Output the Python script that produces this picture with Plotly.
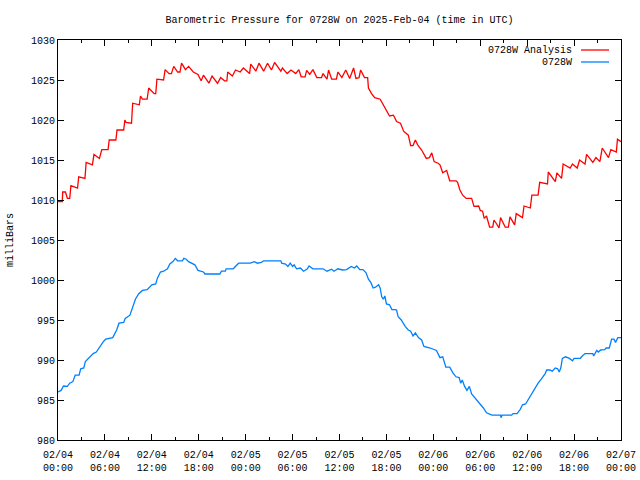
import pandas as pd
import plotly.graph_objects as go

START = "2025-02-04 00:00"

# Hours since 2025-02-04 00:00 UTC and pressure (mb)
analysis_hours = [0.0,0.55,0.6,0.95,1.2,1.5,1.65,2.5,2.65,3.45,3.6,4.4,4.6,5.3,5.6,6.4,6.55,7.4,7.55,8.4,8.55,8.7,9.4,9.55,10.4,10.55,10.8,11.4,11.6,12.3,12.5,12.65,13.5,13.7,14.2,14.5,14.8,15.3,15.6,15.8,16.3,16.7,17.3,17.9,18.3,18.6,19.3,19.7,20.4,20.8,21.3,21.6,21.7,22.3,22.7,23.3,23.7,24.5,24.65,25.3,25.7,26.3,26.8,27.3,27.7,28.5,28.7,29.3,29.8,30.4,30.8,31.1,31.6,31.8,32.2,32.6,33.1,33.7,33.9,34.4,34.6,35.0,35.6,35.8,36.3,36.8,37.3,37.8,38.1,38.5,38.7,39.2,39.6,39.7,40.1,40.5,41.2,41.7,42.0,42.4,42.9,43.3,43.8,44.2,44.8,45.1,45.4,45.7,46.0,46.5,47.1,47.5,47.8,48.1,48.6,48.85,49.2,49.7,50.1,50.9,51.1,51.4,51.75,52.2,52.9,53.2,53.8,54.0,54.3,54.5,54.8,55.2,55.6,55.75,56.1,56.4,56.6,57.2,57.6,57.8,58.4,58.6,59.4,59.6,60.4,60.6,61.4,61.6,62.6,62.7,63.6,63.8,64.4,64.6,65.5,65.8,66.4,66.7,67.4,67.6,68.4,68.8,69.3,69.6,70.4,70.7,71.4,71.55,72.0]
analysis_mb = [1009.8,1009.8,1011.0,1011.0,1010.2,1010.2,1011.8,1011.5,1012.9,1012.7,1014.7,1014.4,1015.7,1015.2,1016.3,1016.3,1017.5,1017.5,1018.75,1018.75,1020.0,1019.7,1019.6,1022.1,1021.9,1023.0,1022.6,1022.6,1024.0,1023.3,1023.3,1025.1,1025.0,1026.3,1025.8,1025.8,1026.7,1026.0,1026.0,1027.1,1026.3,1026.7,1026.0,1025.7,1024.9,1025.6,1024.6,1025.5,1024.6,1025.3,1024.9,1024.9,1026.0,1025.5,1026.25,1026.0,1026.5,1025.8,1027.0,1026.1,1027.1,1026.1,1027.1,1026.25,1027.2,1026.1,1026.5,1025.8,1026.25,1025.8,1026.3,1025.4,1025.4,1026.2,1025.7,1026.3,1025.3,1025.3,1025.8,1025.1,1026.25,1025.1,1025.1,1026.0,1025.3,1026.25,1025.2,1026.5,1025.2,1025.3,1026.25,1025.3,1025.3,1024.0,1023.3,1022.8,1022.6,1021.7,1021.25,1020.5,1020.6,1019.8,1019.6,1018.6,1018.1,1016.8,1016.8,1017.5,1016.9,1016.25,1015.2,1015.3,1015.9,1014.8,1014.6,1014.4,1013.4,1013.7,1012.4,1012.4,1012.2,1011.25,1010.6,1010.2,1010.2,1009.2,1009.25,1008.7,1008.6,1007.7,1008.0,1006.6,1006.6,1007.5,1007.0,1006.5,1007.8,1006.6,1006.6,1007.9,1006.9,1008.3,1007.8,1009.25,1009.0,1010.6,1010.6,1012.2,1012.0,1013.5,1012.3,1013.4,1012.7,1014.5,1014.0,1014.5,1014.0,1015.0,1014.5,1015.7,1014.7,1015.3,1014.8,1016.5,1015.3,1016.3,1016.0,1017.6,1017.3]

station_hours = [0,0.4,0.7,1.2,1.5,1.9,2.2,2.7,2.9,3.3,3.5,3.9,4.5,4.9,5.4,5.8,6.1,7.0,7.5,7.8,8.4,8.6,9.2,9.6,9.9,10.3,10.8,11.4,12.0,12.5,12.7,13.1,13.5,14.0,14.3,14.7,15.0,15.3,15.9,16.1,16.4,16.7,17.1,17.5,17.9,18.6,18.8,20.7,20.9,21.4,21.5,22.4,23.1,24.6,25.1,25.5,26.0,26.3,28.5,28.6,29.1,29.4,29.7,30.0,30.2,30.5,31.0,31.4,31.9,32.1,32.6,33.9,34.4,35.0,35.3,35.8,36.4,36.9,37.5,37.9,38.2,38.6,39.0,39.4,39.7,40.0,40.3,40.6,41.0,41.2,41.4,41.6,41.8,42.0,42.4,42.7,43.1,43.3,43.5,43.9,44.4,44.8,45.1,45.4,45.7,46.1,46.5,46.8,47.6,48.0,48.4,48.85,49.2,49.6,50.1,50.5,50.9,51.3,51.5,51.7,52.0,52.3,52.6,52.9,53.3,53.5,54.0,54.4,54.8,55.2,55.5,56.6,56.65,56.8,58.0,58.2,58.7,59.1,59.4,59.8,60.1,60.6,61.0,61.4,61.8,62.3,62.5,62.9,63.2,63.6,63.9,64.1,64.3,64.5,64.9,65.4,65.8,66.0,66.8,66.95,67.4,68.4,68.5,68.9,69.1,69.4,69.9,70.1,70.5,70.8,71.1,71.3,71.6,72.0]
station_mb = [986.0,986.2,986.75,986.7,987.1,987.3,988.1,988.1,988.9,989.0,989.8,990.2,990.8,991.0,991.75,992.3,992.6,992.8,993.75,994.6,994.7,995.2,995.6,996.7,997.6,998.25,998.7,998.8,999.4,999.5,1000.2,1001.0,1001.1,1001.4,1002.0,1002.3,1002.7,1002.4,1002.4,1002.7,1002.6,1002.3,1002.1,1001.9,1001.2,1001.0,1000.75,1000.75,1001.1,1001.1,1001.4,1001.4,1002.1,1002.1,1002.3,1002.1,1002.2,1002.4,1002.4,1002.1,1002.0,1001.7,1002.1,1001.7,1001.9,1001.4,1001.5,1001.1,1001.4,1001.75,1001.4,1001.4,1001.1,1001.35,1001.1,1001.4,1001.25,1001.3,1001.7,1001.5,1001.75,1001.3,1001.3,1000.9,1000.1,999.7,999.0,999.1,999.4,999.0,997.9,997.6,998.0,997.0,996.9,996.3,996.3,996.25,995.4,995.0,994.2,993.75,993.6,993.0,993.4,992.8,992.5,991.7,991.5,991.3,991.2,990.3,990.4,989.1,989.1,988.4,987.9,987.8,987.1,987.5,986.7,986.2,986.7,985.75,985.3,985.0,984.4,984.0,983.4,983.25,983.1,983.1,982.8,983.1,983.1,983.3,983.3,983.8,984.4,984.5,985.0,985.9,986.5,987.1,987.6,988.3,988.75,988.75,988.6,989.0,988.9,988.5,989.0,990.2,990.4,990.2,989.9,990.2,990.2,990.4,990.8,990.8,990.5,991.2,991.0,991.25,991.3,991.5,991.5,992.6,992.6,992.2,992.8,992.8]

series_names = ["0728W Analysis", "0728W"]
series_colors = ["#ff0000", "#0080ff"]
y_ticks = [980, 985, 990, 995, 1000, 1005, 1010, 1015, 1020, 1025, 1030]

t0 = pd.Timestamp(START)
def to_time(hours):
    return [t0 + pd.Timedelta(hours=h) for h in hours]

FONT = "Liberation Mono, DejaVu Sans Mono, monospace"

fig = go.Figure()
fig.add_trace(go.Scatter(x=to_time(analysis_hours), y=analysis_mb, mode="lines",
                         name=series_names[0], line=dict(color=series_colors[0], width=1.3)))
fig.add_trace(go.Scatter(x=to_time(station_hours), y=station_mb, mode="lines",
                         name=series_names[1], line=dict(color=series_colors[1], width=1.3)))

fig.update_layout(
    width=640, height=480,
    margin=dict(l=58, r=19, t=40, b=40, autoexpand=False),
    paper_bgcolor="white", plot_bgcolor="white",
    showlegend=False,
    font=dict(family=FONT, size=10, color="black"),
    title=dict(text="Barometric Pressure for 0728W on 2025-Feb-04 (time in UTC)",
               x=0.5, xref="paper", xanchor="center",
               y=1 - 19 / 480, yref="container", yanchor="middle",
               font=dict(family=FONT, size=10, color="black")),
)

fig.update_xaxes(
    type="date", automargin=False,
    range=[t0, t0 + pd.Timedelta(hours=72)],
    tickmode="linear", tick0=t0, dtick=6 * 3600 * 1000,
    tickformat="%m/%d<br>%H:%M",
    ticks="inside", ticklen=6, tickcolor="black",
    ticklabelstandoff=5,
    minor=dict(dtick=3 * 3600 * 1000, tick0=t0, ticks="inside", ticklen=3, tickcolor="black", showgrid=False),
    showline=True, linecolor="black", linewidth=1, mirror="allticks",
    showgrid=False, zeroline=False,
    tickfont=dict(family=FONT, size=10, color="black"),
)
fig.update_yaxes(
    automargin=False,
    range=[980, 1030],
    tickmode="array", tickvals=y_ticks, ticktext=[str(v) for v in y_ticks],
    ticks="inside", ticklen=6, tickcolor="black",
    showline=True, linecolor="black", linewidth=1, mirror="allticks",
    showgrid=False, zeroline=False,
    title=dict(text="milliBars", standoff=15, font=dict(family=FONT, size=10, color="black")),
    tickfont=dict(family=FONT, size=10, color="black"),
)

# Legend drawn gnuplot-style (text right, sample line after it), top-right inside
legend_y = [0.975, 0.945]
for name, color, ly in zip(series_names, series_colors, legend_y):
    fig.add_annotation(text=name, xref="paper", yref="paper", x=0.9165, y=ly,
                       xanchor="right", yanchor="middle", showarrow=False,
                       font=dict(family=FONT, size=10, color="black"))
    fig.add_shape(type="line", xref="paper", yref="paper", x0=0.929, x1=0.9787,
                  y0=ly, y1=ly, line=dict(color=color, width=1.3))

fig.write_html("out.html")
